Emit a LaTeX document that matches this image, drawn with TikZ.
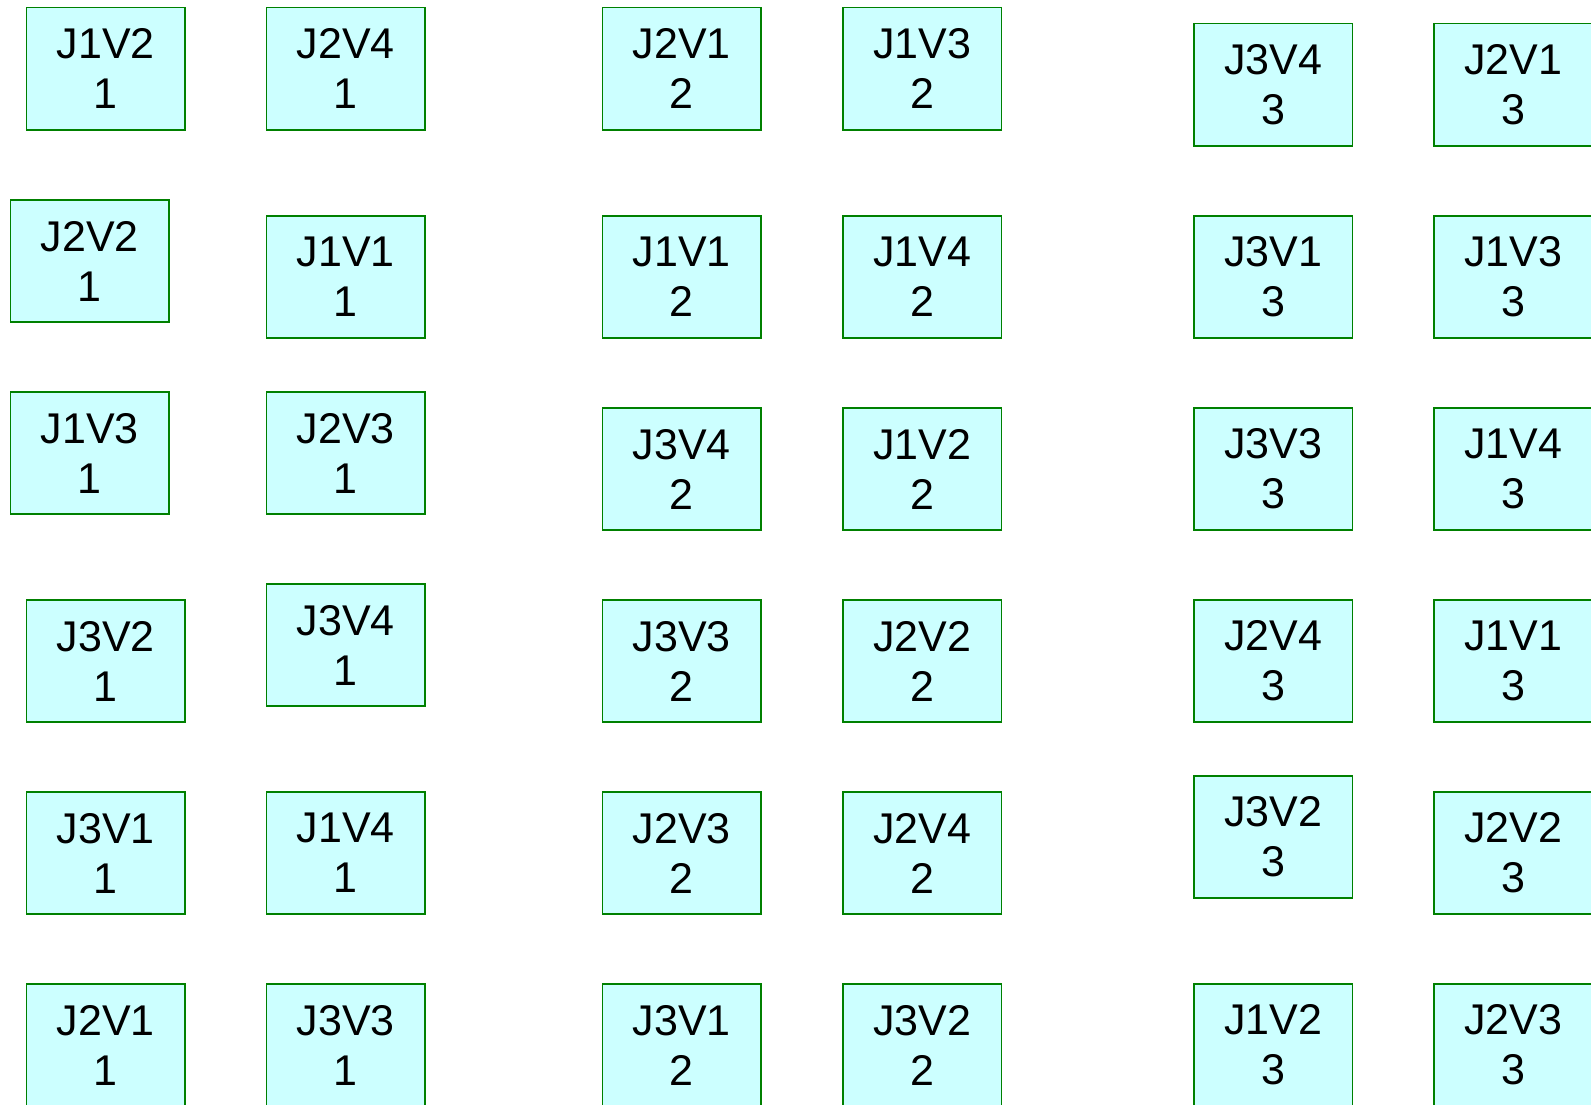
\documentclass[tikz,border=0pt]{standalone}
\usepackage{fontspec}
\setmainfont{Liberation Sans}
\usepackage{xcolor}
\definecolor{cellfill}{HTML}{CCFFFF}
\definecolor{cellline}{HTML}{008000}
\tikzset{cell/.style={draw=cellline, fill=cellfill, line width=1.8pt,
    minimum width=158.5pt, minimum height=122.5pt, inner sep=0pt,
    align=center, font=\fontsize{43}{50}\selectfont}}

\begin{document}
\begin{tikzpicture}[x=1pt, y=-1pt]
            \useasboundingbox (0,0) rectangle (1591,1104);
            % Gruppe 1
            \node[cell] (m1r1a) at (105.7,68.7) {J1V2\\1};
            \node[cell] (m1r1b) at (345.7,68.7) {J2V4\\1};
            \node[cell] (m1r2a) at (89.7,261) {J2V2\\1};
            \node[cell] (m1r2b) at (345.7,277) {J1V1\\1};
            \node[cell] (m1r3a) at (89.7,453) {J1V3\\1};
            \node[cell] (m1r3b) at (345.7,453) {J2V3\\1};
            \node[cell] (m1r4a) at (105.7,661) {J3V2\\1};
            \node[cell] (m1r4b) at (345.7,645) {J3V4\\1};
            \node[cell] (m1r5a) at (105.7,853) {J3V1\\1};
            \node[cell] (m1r5b) at (345.7,853) {J1V4\\1};
            \node[cell] (m1r6a) at (105.7,1045) {J2V1\\1};
            \node[cell] (m1r6b) at (345.7,1045) {J3V3\\1};
            % Gruppe 2
            \node[cell] (m2r1a) at (681.7,68.7) {J2V1\\2};
            \node[cell] (m2r1b) at (922.2,68.7) {J1V3\\2};
            \node[cell] (m2r2a) at (681.7,277) {J1V1\\2};
            \node[cell] (m2r2b) at (922.2,277) {J1V4\\2};
            \node[cell] (m2r3a) at (681.7,469) {J3V4\\2};
            \node[cell] (m2r3b) at (922.2,469) {J1V2\\2};
            \node[cell] (m2r4a) at (681.7,661) {J3V3\\2};
            \node[cell] (m2r4b) at (922.2,661) {J2V2\\2};
            \node[cell] (m2r5a) at (681.7,853) {J2V3\\2};
            \node[cell] (m2r5b) at (922.2,853) {J2V4\\2};
            \node[cell] (m2r6a) at (681.7,1045) {J3V1\\2};
            \node[cell] (m2r6b) at (922.2,1045) {J3V2\\2};
            % Gruppe 3
            \node[cell] (m3r1a) at (1273.3,84.7) {J3V4\\3};
            \node[cell] (m3r1b) at (1513.3,84.7) {J2V1\\3};
            \node[cell] (m3r2a) at (1273.3,277) {J3V1\\3};
            \node[cell] (m3r2b) at (1513.3,277) {J1V3\\3};
            \node[cell] (m3r3a) at (1273.3,469) {J3V3\\3};
            \node[cell] (m3r3b) at (1513.3,469) {J1V4\\3};
            \node[cell] (m3r4a) at (1273.3,661) {J2V4\\3};
            \node[cell] (m3r4b) at (1513.3,661) {J1V1\\3};
            \node[cell] (m3r5a) at (1273.3,837) {J3V2\\3};
            \node[cell] (m3r5b) at (1513.3,853) {J2V2\\3};
            \node[cell] (m3r6a) at (1273.3,1045) {J1V2\\3};
            \node[cell] (m3r6b) at (1513.3,1045) {J2V3\\3};
        \end{tikzpicture}
\end{document}
